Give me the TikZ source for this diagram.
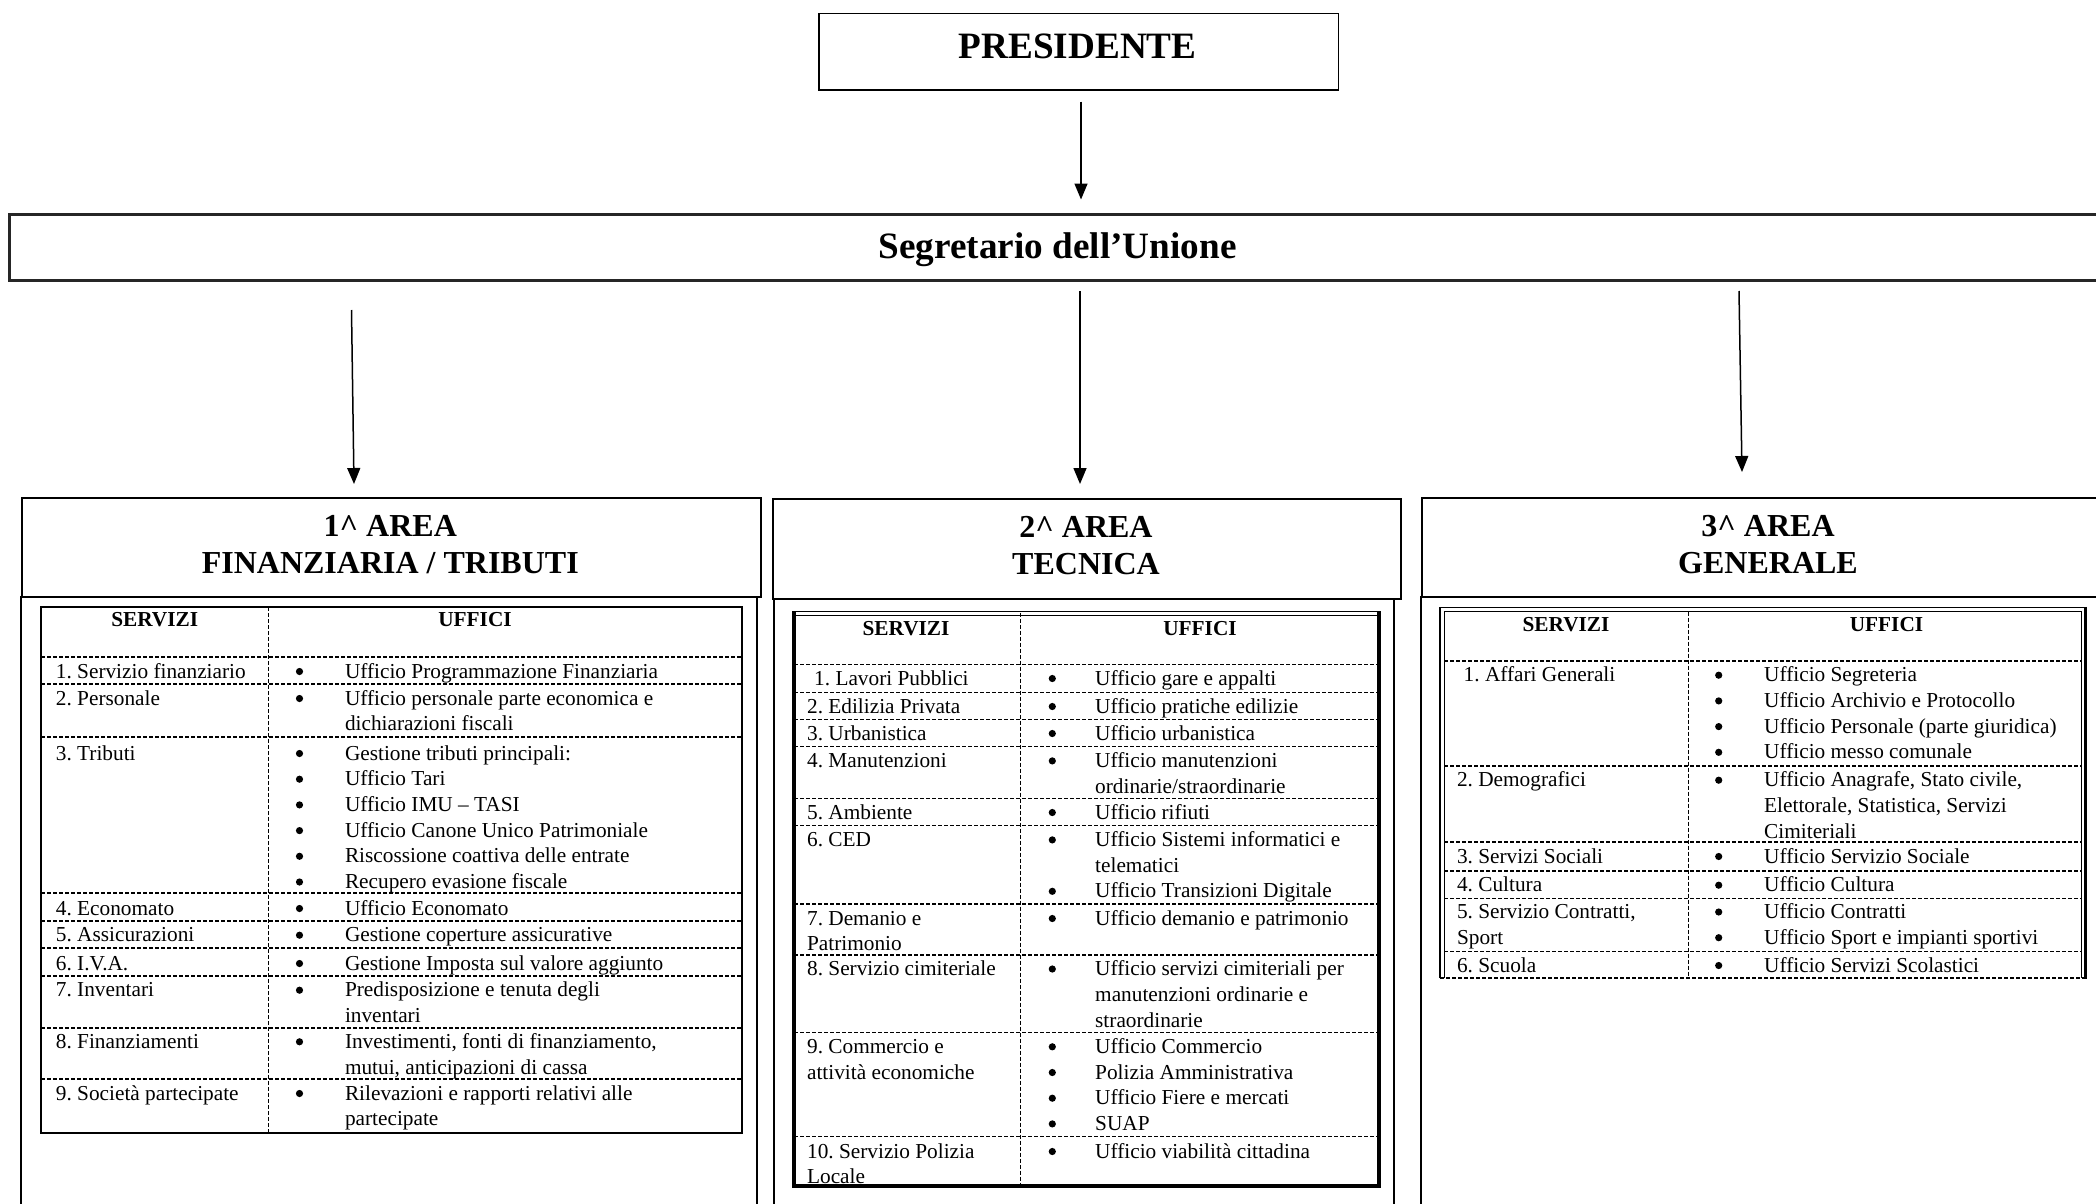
\documentclass[tikz,border=0pt]{standalone}
\usepackage{fontspec}
\setmainfont{Liberation Serif}
\usetikzlibrary{arrows.meta}
\frenchspacing
\newcommand{\bodyfont}{\fontsize{21.3}{25.7}\selectfont}
\newcommand{\ttlfont}{\fontsize{32}{36.7}\selectfont\bfseries}
\newcommand{\bigfont}{\fontsize{37.2}{44}\selectfont\bfseries}
\newcommand{\svnode}[4]{\node[txt] (#1) at (#2,{#3-18}) {\strut #4};}
\newcommand{\ufnode}[3]{\node[bul] (#1b) at (\BX,{#2-6.5}) {}; \node[txt] (#1) at (\UX,{#2-18}) {\strut #3};}
\begin{document}
\begin{tikzpicture}[x=1pt,y=-1pt,
 box/.style={draw,line width=1.8pt,inner sep=0pt},
 txt/.style={anchor=north west,inner sep=0pt,align=left,font=\bodyfont},
 bul/.style={circle,fill,inner sep=0pt,minimum size=7.2pt},
 hd/.style={anchor=base,inner sep=0pt,font={\bodyfont\bfseries}},
 ttl/.style={anchor=north,inner sep=0pt,align=center,font=\ttlfont},
 big/.style={anchor=base,inner sep=0pt,font=\bigfont},
 arr/.style={line width=1.5pt,-{Triangle[length=16pt,width=13pt]}},
 dsh/.style={line width=1.3pt,dash pattern=on 4pt off 2pt},
 tbl/.style={line width=2pt}]
\useasboundingbox (0,0) rectangle (2096,1204);
\clip (0,0) rectangle (2096,1204);

% top boxes
\node[box,anchor=north west,minimum width=519.5pt,minimum height=76.6pt] (pres) at (818,12.7) {};
\node[big] (prest) at (1077.7,58.3) {PRESIDENTE};
\node[draw=black!85,line width=2.5pt,anchor=north west,minimum width=2100pt,minimum height=66pt,inner sep=0pt] (seg) at (8,213.3) {};
\node[big] (segt) at (1057.7,258.3) {Segretario dell’Unione};

% area headers
\node[box,anchor=north west,minimum width=739.3pt,minimum height=99.3pt] (h1) at (20.7,496.7) {};
\node[ttl] (h1t) at (390.3,511) {\strut 1\textasciicircum{} AREA\\FINANZIARIA / TRIBUTI};
\draw[box] (20.7,596) -- (20.7,1220);
\draw[box] (757,596) -- (757,1220);

\node[box,anchor=north west,minimum width=627.3pt,minimum height=100pt] (h2) at (772.4,498.3) {};
\node[ttl] (h2t) at (1086,511.6) {\strut 2\textasciicircum{} AREA\\TECNICA};
\draw[box] (773.7,598.3) -- (773.7,1220);
\draw[box] (1394.3,598.3) -- (1394.3,1220);

\node[box,anchor=north west,minimum width=700pt,minimum height=99.3pt] (h3) at (1421,496.7) {};
\node[ttl] (h3t) at (1768,511) {\strut 3\textasciicircum{} AREA\\GENERALE};
\draw[box] (1421,596) -- (1421,1220);

% arrows
\coordinate (a0s) at (1081,101.7); \coordinate (a0e) at (1081,199.5);
\coordinate (a1s) at (351.5,310);  \coordinate (a1e) at (354,484);
\coordinate (a2s) at (1080,291);   \coordinate (a2e) at (1080,484);
\coordinate (a3s) at (1739,291);   \coordinate (a3e) at (1742,472);
\draw[arr] (a0s) -- (a0e);
\draw[arr] (a1s) -- (a1e);
\draw[arr] (a2s) -- (a2e);
\draw[arr] (a3s) -- (a3e);

% ---------- table 1
\foreach \y in {657,684,737,893,921,948,976,1028,1079} \draw[dsh] (41,\y) -- (742,\y);
\draw[dsh] (268.5,607) -- (268.5,1133);
\draw[tbl] (41,607) rectangle (742,1133);
\node[hd] (t1hs) at (154.7,626.7) {SERVIZI};
\node[hd] (t1hu) at (475,626.7) {UFFICI};
\def\SX{55.7}\def\BX{299.5}\def\UX{344.8}
\svnode{t1s1}{\SX}{678}{1. Servizio finanziario}
\ufnode{t1u1}{678}{Ufficio Programmazione Finanziaria}
\svnode{t1s2}{\SX}{705}{2. Personale}
\ufnode{t1u2}{705}{Ufficio personale parte economica e\\dichiarazioni fiscali}
\svnode{t1s3}{\SX}{760}{3. Tributi}
\ufnode{t1u3a}{760}{Gestione tributi principali:}
\ufnode{t1u3b}{785.7}{Ufficio Tari}
\ufnode{t1u3c}{811.4}{Ufficio IMU – TASI}
\ufnode{t1u3d}{837.1}{Ufficio Canone Unico Patrimoniale}
\ufnode{t1u3e}{862.8}{Riscossione coattiva delle entrate}
\ufnode{t1u3f}{888.5}{Recupero evasione fiscale}
\svnode{t1s4}{\SX}{915}{4. Economato}
\ufnode{t1u4}{915}{Ufficio Economato}
\svnode{t1s5}{\SX}{941.7}{5. Assicurazioni}
\ufnode{t1u5}{941.7}{Gestione coperture assicurative}
\svnode{t1s6}{\SX}{970}{6. I.V.A.}
\ufnode{t1u6}{970}{Gestione Imposta sul valore aggiunto}
\svnode{t1s7}{\SX}{996.7}{7. Inventari}
\ufnode{t1u7}{996.7}{Predisposizione e tenuta degli\\inventari}
\svnode{t1s8}{\SX}{1048.3}{8. Finanziamenti}
\ufnode{t1u8}{1048.3}{Investimenti, fonti di finanziamento,\\mutui, anticipazioni di cassa}
\svnode{t1s9}{\SX}{1100}{9. Società partecipate}
\ufnode{t1u9}{1100}{Rilevazioni e rapporti relativi alle\\partecipate}

% ---------- table 2
\foreach \y in {664.3,692.3,719.3,746.7,798.3,825.7,904,955,1032.3,1136.7} \draw[dsh] (794,\y) -- (1378.6,\y);
\draw[dsh] (1020.4,612.7) -- (1020.4,1188);
\draw[line width=4pt] (794.3,611) -- (794.3,1186.3) -- (1378.6,1186.3) -- (1378.6,611);
\draw[line width=1.3pt] (792.3,611.7) -- (1380.6,611.7);
\draw[line width=1.3pt] (796,615.2) -- (1376.6,615.2);
\node[hd] (t2hs) at (906,635) {SERVIZI};
\node[hd] (t2hu) at (1200,635) {UFFICI};
\def\SX{806.9}\def\BX{1052.3}\def\UX{1095}
\svnode{t2s1}{814}{685}{1. Lavori Pubblici}
\ufnode{t2u1}{685}{Ufficio gare e appalti}
\svnode{t2s2}{\SX}{713}{2. Edilizia Privata}
\ufnode{t2u2}{713}{Ufficio pratiche edilizie}
\svnode{t2s3}{\SX}{740}{3. Urbanistica}
\ufnode{t2u3}{740}{Ufficio urbanistica}
\svnode{t2s4}{\SX}{767.4}{4. Manutenzioni}
\ufnode{t2u4}{767.4}{Ufficio manutenzioni\\ordinarie/straordinarie}
\svnode{t2s5}{\SX}{819}{5. Ambiente}
\ufnode{t2u5}{819}{Ufficio rifiuti}
\svnode{t2s6}{\SX}{846.4}{6. CED}
\ufnode{t2u6a}{846.4}{Ufficio Sistemi informatici e\\telematici}
\ufnode{t2u6b}{897.8}{Ufficio Transizioni Digitale}
\svnode{t2s7}{\SX}{925}{7. Demanio e\\Patrimonio}
\ufnode{t2u7}{925}{Ufficio demanio e patrimonio}
\svnode{t2s8}{\SX}{975.5}{8. Servizio cimiteriale}
\ufnode{t2u8}{975.5}{Ufficio servizi cimiteriali per\\manutenzioni ordinarie e\\straordinarie}
\svnode{t2s9}{\SX}{1053.3}{9. Commercio e\\attività economiche}
\ufnode{t2u9a}{1053.3}{Ufficio Commercio}
\ufnode{t2u9b}{1079}{Polizia Amministrativa}
\ufnode{t2u9c}{1104.7}{Ufficio Fiere e mercati}
\ufnode{t2u9d}{1130.4}{SUAP}
\svnode{t2s10}{\SX}{1158}{10. Servizio Polizia\\Locale}
\ufnode{t2u10}{1158}{Ufficio viabilità cittadina}

% ---------- table 3
\foreach \y in {661,766,842,871,898.3,951.7} \draw[dsh] (1444.4,\y) -- (2082,\y);
\draw[dsh] (1440,978) -- (2087,978);
\draw[dsh] (1688.5,611.7) -- (1688.5,977.3);
\draw[line width=1.5pt] (1440,978) -- (1440,607.7) -- (2087,607.7);
\draw[line width=1.5pt] (1444.4,978) -- (1444.4,611.7) -- (2082,611.7);
\draw[line width=1.3pt] (2081.7,611.7) -- (2081.7,978);
\draw[line width=3.5pt] (2085.5,606.9) -- (2085.5,979);
\node[hd] (t3hs) at (1566,631.7) {SERVIZI};
\node[hd] (t3hu) at (1886.5,631.7) {UFFICI};
\def\SX{1456.8}\def\BX{1718.7}\def\UX{1764}
\svnode{t3s1}{1463.5}{681.7}{1. Affari Generali}
\ufnode{t3u1a}{681.7}{Ufficio Segreteria}
\ufnode{t3u1b}{707.4}{Ufficio Archivio e Protocollo}
\ufnode{t3u1c}{733.1}{Ufficio Personale (parte giuridica)}
\ufnode{t3u1d}{758.8}{Ufficio messo comunale}
\svnode{t3s2}{\SX}{786.7}{2. Demografici}
\ufnode{t3u2}{786.7}{Ufficio Anagrafe, Stato civile,\\Elettorale, Statistica, Servizi\\Cimiteriali}
\svnode{t3s3}{\SX}{863}{3. Servizi Sociali}
\ufnode{t3u3}{863}{Ufficio Servizio Sociale}
\svnode{t3s4}{\SX}{891.7}{4. Cultura}
\ufnode{t3u4}{891.7}{Ufficio Cultura}
\svnode{t3s5}{\SX}{918.5}{5. Servizio Contratti,\\Sport}
\ufnode{t3u5a}{918.5}{Ufficio Contratti}
\ufnode{t3u5b}{944.2}{Ufficio Sport e impianti sportivi}
\svnode{t3s6}{\SX}{972}{6. Scuola}
\ufnode{t3u6}{972}{Ufficio Servizi Scolastici}
\end{tikzpicture}
\end{document}
